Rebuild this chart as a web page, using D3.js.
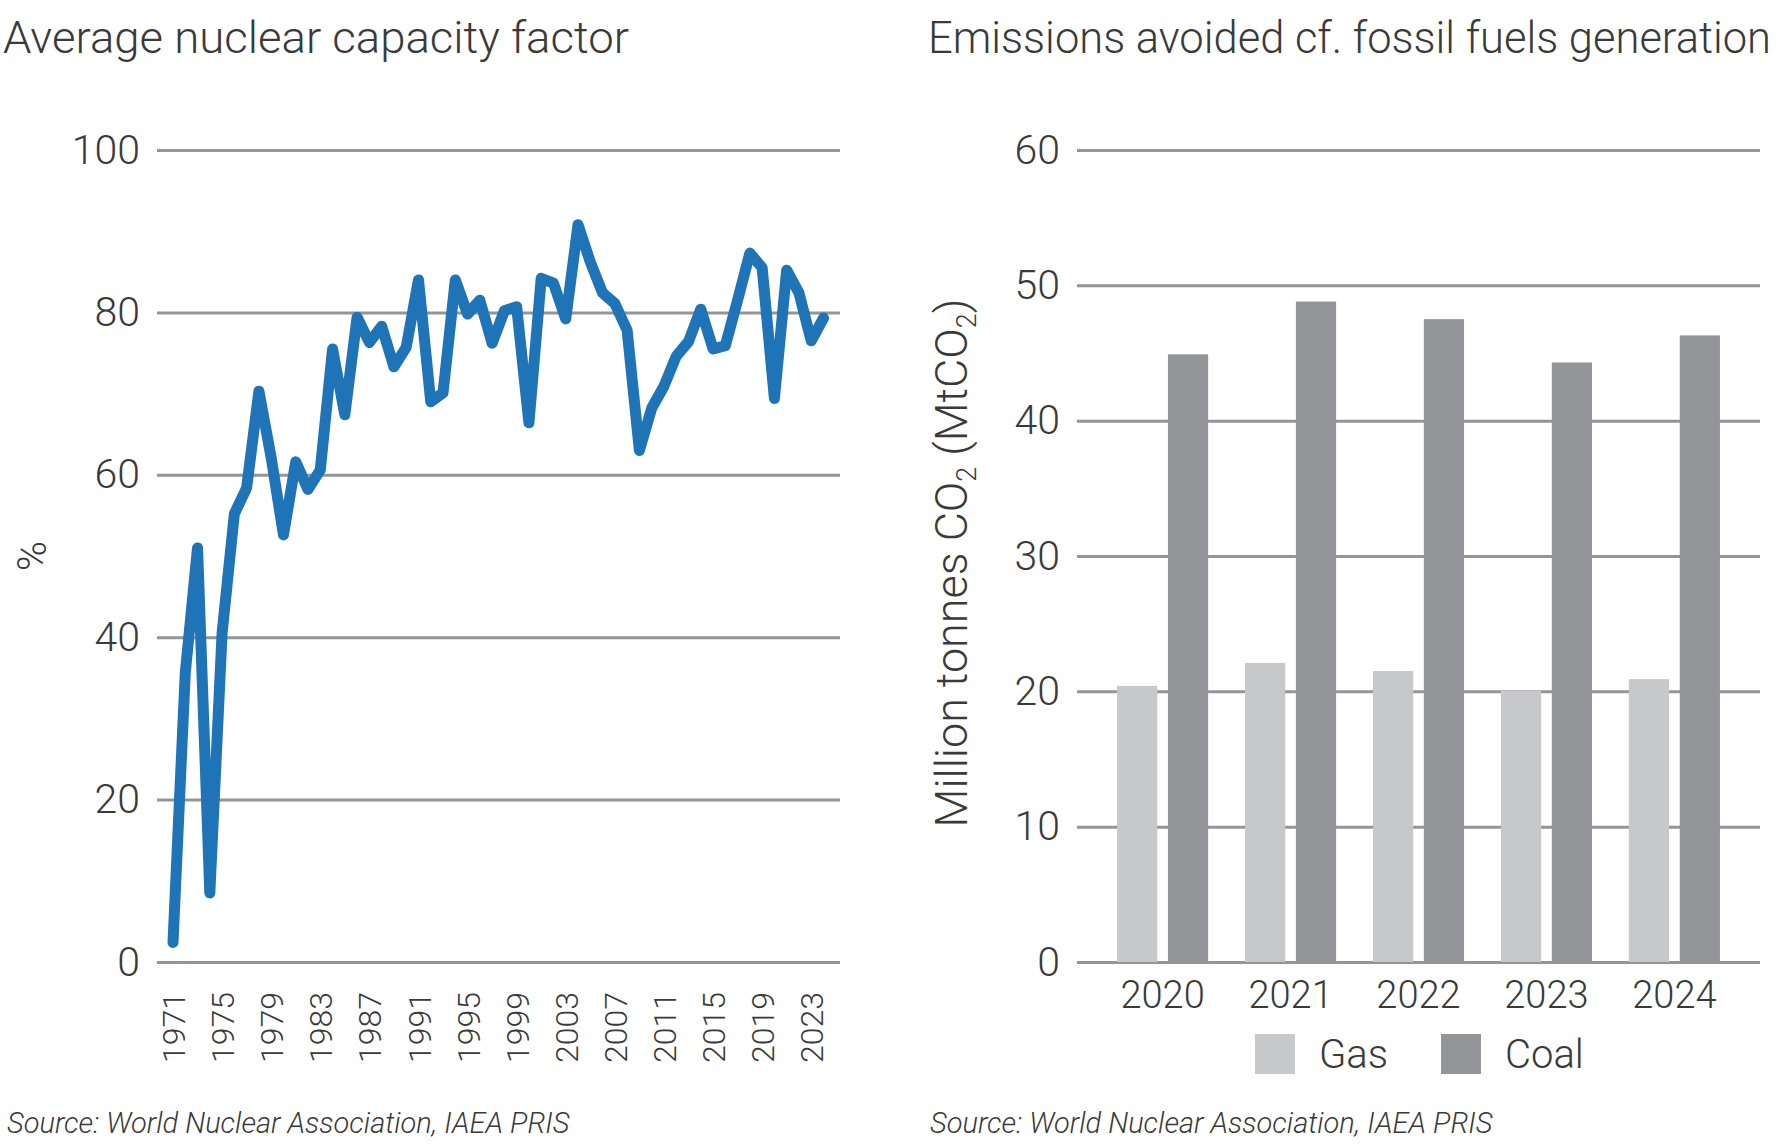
<!DOCTYPE html>
<html>
<head>
<meta charset="utf-8">
<script src="https://cdn.jsdelivr.net/npm/d3@7"></script>
<style>
  body { margin: 0; background: #fff; }
  svg text { font-family: Roboto, "Liberation Sans", sans-serif; font-weight: 300; fill: #3a3a3a; }
</style>
</head>
<body>
<div id="chart"></div>
<script>
// left chart: average nuclear capacity factor (%)
var years = [1971, 1972, 1973, 1974, 1975, 1976, 1977, 1978, 1979, 1980,
             1981, 1982, 1983, 1984, 1985, 1986, 1987, 1988, 1989, 1990,
             1991, 1992, 1993, 1994, 1995, 1996, 1997, 1998, 1999, 2000,
             2001, 2002, 2003, 2004, 2005, 2006, 2007, 2008, 2009, 2010,
             2011, 2012, 2013, 2014, 2015, 2016, 2017, 2018, 2019, 2020,
             2021, 2022, 2023, 2024]
var capacity = [2.4, 35.6, 51.0, 8.5, 40.5, 55.2, 58.4, 70.3, 62.1, 52.6,
                61.6, 58.2, 60.6, 75.5, 67.4, 79.4, 76.3, 78.3, 73.3, 75.7,
                84.0, 69.0, 70.1, 84.0, 79.8, 81.5, 76.2, 80.2, 80.7, 66.4,
                84.2, 83.6, 79.2, 90.8, 86.2, 82.4, 81.1, 77.8, 63.0, 68.2,
                70.9, 74.6, 76.4, 80.4, 75.5, 75.9, 81.5, 87.3, 85.5, 69.4,
                85.2, 82.4, 76.5, 79.3]
var yearTicks = [1971, 1975, 1979, 1983, 1987, 1991, 1995, 1999, 2003, 2007, 2011, 2015, 2019, 2023]
var capTicks = [0, 20, 40, 60, 80, 100]

// right chart: emissions avoided (MtCO2)
var emYears = ["2020", "2021", "2022", "2023", "2024"]
var series = ["Gas", "Coal"]
var gas = [20.4, 22.1, 21.5, 20.05, 20.9]
var coal = [44.9, 48.8, 47.5, 44.3, 46.3]
var emTicks = [0, 10, 20, 30, 40, 50, 60]

var colors = { "Gas": "#c7c8ca", "Coal": "#939598" }
var gridColor = "#939598"
var source = "Source: World Nuclear Association, IAEA PRIS"

var svg = d3.select("#chart").append("svg")
    .attr("width", 1780)
    .attr("height", 1148)

function styleGrid(g) {
  g.select(".domain").remove()
  g.selectAll(".tick line").attr("stroke", gridColor).attr("stroke-width", 3)
  g.selectAll(".tick text").attr("font-size", 41).attr("fill", "#3a3a3a")
}

// ---------- left chart ----------
var xL = d3.scaleLinear().domain([1971, 2024]).range([173, 823.5])
var yL = d3.scaleLinear().domain([0, 100]).range([962, 150])

svg.append("g")
    .attr("transform", "translate(157,0)")
    .call(d3.axisLeft(yL).tickValues(capTicks).tickSize(-(840 - 157)).tickPadding(17))
    .call(styleGrid)

var xAxisL = svg.append("g")
    .attr("transform", "translate(0,962)")
    .call(d3.axisBottom(xL).tickValues(yearTicks).tickSize(0).tickFormat(d3.format("d")))
xAxisL.select(".domain").remove()
xAxisL.selectAll(".tick text")
    .attr("transform", "rotate(-90)")
    .attr("text-anchor", "end")
    .attr("x", -30)
    .attr("y", 0)
    .attr("dy", "0.36em")
    .attr("font-size", 32)
    .attr("fill", "#3a3a3a")

var line = d3.line()
    .x(function(d, i) { return xL(years[i]) })
    .y(function(d) { return yL(d) })

svg.append("path")
    .datum(capacity)
    .attr("d", line)
    .attr("fill", "none")
    .attr("stroke", "#1f73b7")
    .attr("stroke-width", 11)
    .attr("stroke-linejoin", "round")
    .attr("stroke-linecap", "round")

svg.append("text")
    .attr("x", 3).attr("y", 53)
    .attr("font-size", 44)
    .attr("textLength", 626)
    .attr("lengthAdjust", "spacingAndGlyphs")
    .text("Average nuclear capacity factor")

svg.append("text")
    .attr("transform", "translate(46,556) rotate(-90)")
    .attr("text-anchor", "middle")
    .attr("font-size", 41)
    .text("%")

svg.append("text")
    .attr("x", 7).attr("y", 1133)
    .attr("font-size", 29)
    .attr("font-style", "italic")
    .text(source)

// ---------- right chart ----------
var x0 = d3.scaleBand().domain(emYears).range([1077, 1760]).paddingInner(0.288).paddingOuter(0.313)
var x1 = d3.scaleBand().domain(series).range([0, x0.bandwidth()]).paddingInner(0.21)
var yR = d3.scaleLinear().domain([0, 60]).range([962, 150])

svg.append("g")
    .attr("transform", "translate(1077,0)")
    .call(d3.axisLeft(yR).tickValues(emTicks).tickSize(-(1760 - 1077)).tickPadding(17))
    .call(styleGrid)

var rows = emYears.map(function(y, i) { return { year: y, Gas: gas[i], Coal: coal[i] } })

svg.append("g").selectAll("g")
  .data(rows)
  .enter().append("g")
    .attr("transform", function(d) { return "translate(" + x0(d.year) + ",0)" })
  .selectAll("rect")
  .data(function(d) { return series.map(function(k) { return { key: k, value: d[k] } }) })
  .enter().append("rect")
    .attr("x", function(d) { return x1(d.key) })
    .attr("y", function(d) { return yR(d.value) })
    .attr("width", x1.bandwidth())
    .attr("height", function(d) { return yR(0) - yR(d.value) })
    .attr("fill", function(d) { return colors[d.key] })

var xAxisR = svg.append("g")
    .attr("transform", "translate(0,962)")
    .call(d3.axisBottom(x0).tickSize(0))
xAxisR.select(".domain").remove()
xAxisR.selectAll(".tick text")
    .attr("y", 46)
    .attr("dy", 0)
    .attr("font-size", 38)
    .attr("fill", "#3a3a3a")

svg.append("text")
    .attr("x", 928).attr("y", 53)
    .attr("font-size", 44)
    .attr("textLength", 843)
    .attr("lengthAdjust", "spacingAndGlyphs")
    .text("Emissions avoided cf. fossil fuels generation")

var ytitle = svg.append("text")
    .attr("transform", "translate(967,563) rotate(-90)")
    .attr("text-anchor", "middle")
    .attr("font-size", 45)
ytitle.append("tspan").text("Million tonnes CO")
ytitle.append("tspan").attr("font-size", 27).attr("dy", 9).text("2")
ytitle.append("tspan").attr("dy", -9).text(" (MtCO")
ytitle.append("tspan").attr("font-size", 27).attr("dy", 9).text("2")
ytitle.append("tspan").attr("dy", -9).text(")")

// legend
var legendX = { "Gas": 1255, "Coal": 1441 }
var legend = svg.append("g").selectAll("g")
  .data(series)
  .enter().append("g")
    .attr("transform", function(d) { return "translate(" + legendX[d] + ",1034)" })
legend.append("rect")
    .attr("width", 40).attr("height", 40)
    .attr("fill", function(d) { return colors[d] })
legend.append("text")
    .attr("x", 64).attr("y", 34)
    .attr("font-size", 40)
    .text(function(d) { return d })

svg.append("text")
    .attr("x", 930).attr("y", 1133)
    .attr("font-size", 29)
    .attr("font-style", "italic")
    .text(source)
</script>
</body>
</html>
